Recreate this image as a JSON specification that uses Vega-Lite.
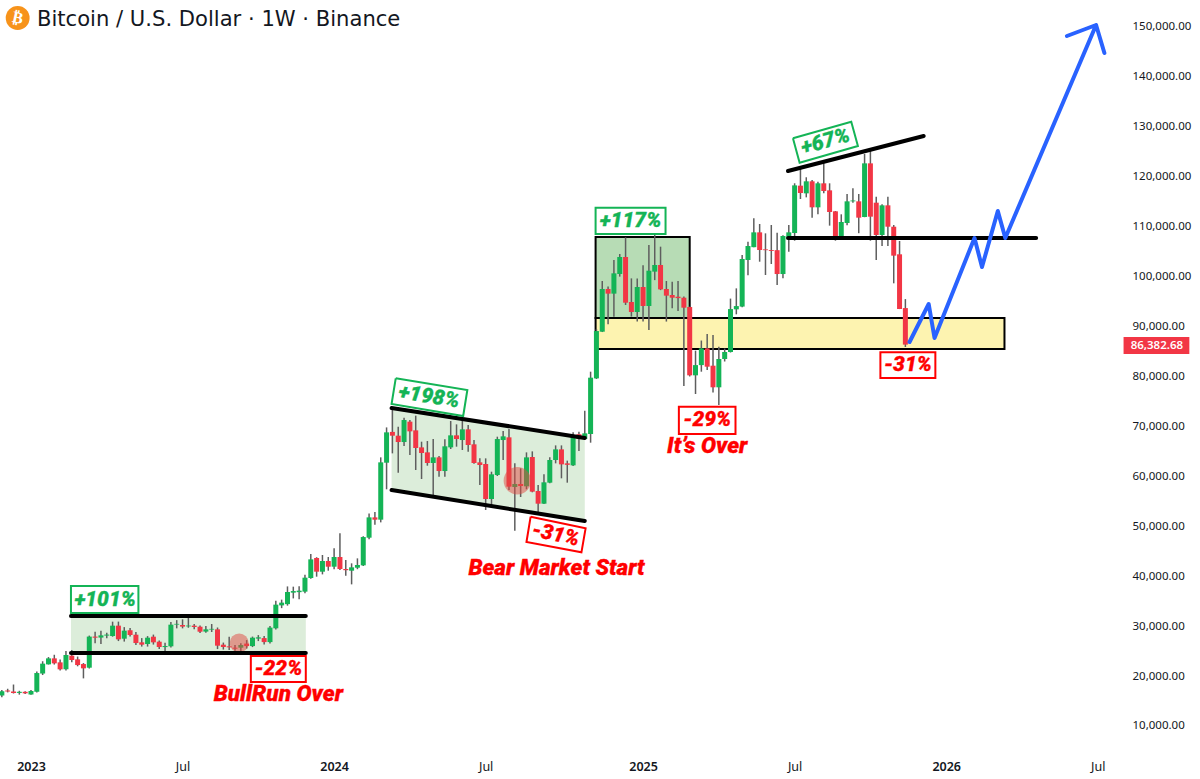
{
  "$schema": "https://vega.github.io/schema/vega-lite/v6.json",
  "width": 1200,
  "height": 779,
  "padding": 0,
  "autosize": "none",
  "background": "#ffffff",
  "config": {"view": {"stroke": null}},
  "title": {
    "text": "Bitcoin / U.S. Dollar · 1W · Binance",
    "anchor": "start",
    "frame": "group",
    "dx": 37,
    "offset": -30,
    "font": "DejaVu Sans",
    "fontSize": 21.1,
    "fontWeight": "normal",
    "color": "#131722"
  },
  "datasets": {
    "candles": [
      {"d":"2022-11-28","o":16100,"h":17200,"l":15750,"c":16950},
      {"d":"2022-12-05","o":17080,"h":17450,"l":16720,"c":16900},
      {"d":"2022-12-12","o":16900,"h":18300,"l":16500,"c":16600},
      {"d":"2022-12-19","o":16620,"h":17050,"l":16270,"c":16840},
      {"d":"2022-12-26","o":16840,"h":16970,"l":16400,"c":16540},
      {"d":"2023-01-02","o":16300,"h":17200,"l":16250,"c":17000},
      {"d":"2023-01-09","o":16850,"h":20900,"l":16700,"c":20600},
      {"d":"2023-01-16","o":20500,"h":22960,"l":20200,"c":22480},
      {"d":"2023-01-23","o":22340,"h":23800,"l":22300,"c":23540},
      {"d":"2023-01-30","o":23540,"h":24260,"l":22300,"c":22540},
      {"d":"2023-02-06","o":22740,"h":23300,"l":21100,"c":21340},
      {"d":"2023-02-13","o":21340,"h":25000,"l":21100,"c":24210},
      {"d":"2023-02-20","o":24080,"h":25200,"l":22760,"c":23210},
      {"d":"2023-02-27","o":23340,"h":23900,"l":21950,"c":22200},
      {"d":"2023-03-06","o":22400,"h":22600,"l":19530,"c":21540},
      {"d":"2023-03-13","o":21670,"h":28100,"l":21500,"c":27900},
      {"d":"2023-03-20","o":27900,"h":28890,"l":26550,"c":27680},
      {"d":"2023-03-27","o":27700,"h":29090,"l":26410,"c":28150},
      {"d":"2023-04-03","o":28100,"h":28660,"l":27550,"c":28300},
      {"d":"2023-04-10","o":28020,"h":30890,"l":27880,"c":30090},
      {"d":"2023-04-17","o":30090,"h":30900,"l":27000,"c":27350},
      {"d":"2023-04-24","o":27480,"h":29800,"l":26900,"c":29090},
      {"d":"2023-05-01","o":29150,"h":29600,"l":27900,"c":28220},
      {"d":"2023-05-08","o":28280,"h":28800,"l":26200,"c":26610},
      {"d":"2023-05-15","o":26750,"h":27600,"l":25900,"c":26280},
      {"d":"2023-05-22","o":26410,"h":28000,"l":25900,"c":27680},
      {"d":"2023-05-29","o":27880,"h":28300,"l":26300,"c":26750},
      {"d":"2023-06-05","o":26880,"h":27100,"l":25400,"c":25810},
      {"d":"2023-06-12","o":25800,"h":26680,"l":24880,"c":26010},
      {"d":"2023-06-19","o":25950,"h":30800,"l":25700,"c":30290},
      {"d":"2023-06-26","o":30300,"h":31200,"l":29550,"c":30450},
      {"d":"2023-07-03","o":30220,"h":31360,"l":29550,"c":29900},
      {"d":"2023-07-10","o":29950,"h":31890,"l":29670,"c":30100},
      {"d":"2023-07-17","o":30090,"h":30420,"l":29350,"c":29820},
      {"d":"2023-07-24","o":29880,"h":30100,"l":28600,"c":28880},
      {"d":"2023-07-31","o":28900,"h":30020,"l":28680,"c":29350},
      {"d":"2023-08-07","o":29300,"h":30420,"l":28820,"c":29450},
      {"d":"2023-08-14","o":29350,"h":29720,"l":25400,"c":26080},
      {"d":"2023-08-21","o":26280,"h":26700,"l":25300,"c":25810},
      {"d":"2023-08-28","o":25950,"h":27880,"l":25200,"c":25750},
      {"d":"2023-09-04","o":25680,"h":26200,"l":25080,"c":25480},
      {"d":"2023-09-11","o":25680,"h":26550,"l":24880,"c":26210},
      {"d":"2023-09-18","o":26500,"h":27200,"l":25500,"c":26000},
      {"d":"2023-09-25","o":26000,"h":27900,"l":25800,"c":27680},
      {"d":"2023-10-02","o":27500,"h":28200,"l":27000,"c":27750},
      {"d":"2023-10-09","o":27600,"h":28000,"l":26300,"c":26800},
      {"d":"2023-10-16","o":26800,"h":30000,"l":26500,"c":29700},
      {"d":"2023-10-23","o":29560,"h":35100,"l":29300,"c":34300},
      {"d":"2023-10-30","o":34150,"h":35300,"l":33600,"c":34700},
      {"d":"2023-11-06","o":34400,"h":37950,"l":34100,"c":36830},
      {"d":"2023-11-13","o":36700,"h":37900,"l":35550,"c":37020},
      {"d":"2023-11-20","o":36800,"h":38000,"l":35400,"c":37100},
      {"d":"2023-11-27","o":36900,"h":40300,"l":36600,"c":39700},
      {"d":"2023-12-04","o":39630,"h":44440,"l":39500,"c":43370},
      {"d":"2023-12-11","o":43640,"h":43800,"l":39900,"c":40900},
      {"d":"2023-12-18","o":40900,"h":44240,"l":40360,"c":43040},
      {"d":"2023-12-25","o":43040,"h":43840,"l":41100,"c":41900},
      {"d":"2024-01-01","o":41900,"h":45580,"l":41370,"c":43840},
      {"d":"2024-01-08","o":43840,"h":48580,"l":41240,"c":41440},
      {"d":"2024-01-15","o":41440,"h":43240,"l":40100,"c":41200},
      {"d":"2024-01-22","o":41100,"h":42570,"l":38360,"c":41770},
      {"d":"2024-01-29","o":41700,"h":43570,"l":41400,"c":42240},
      {"d":"2024-02-05","o":42170,"h":48000,"l":42040,"c":47840},
      {"d":"2024-02-12","o":47710,"h":52580,"l":47380,"c":51780},
      {"d":"2024-02-19","o":51780,"h":52850,"l":50320,"c":51320},
      {"d":"2024-02-26","o":51320,"h":63800,"l":50780,"c":62800},
      {"d":"2024-03-04","o":62730,"h":69800,"l":57400,"c":68810},
      {"d":"2024-03-11","o":68900,"h":73620,"l":64600,"c":68140},
      {"d":"2024-03-18","o":68140,"h":69950,"l":60730,"c":66870},
      {"d":"2024-03-25","o":66870,"h":71750,"l":66070,"c":71280},
      {"d":"2024-04-01","o":70950,"h":71280,"l":64270,"c":69010},
      {"d":"2024-04-08","o":69210,"h":72150,"l":61270,"c":65670},
      {"d":"2024-04-15","o":65800,"h":66940,"l":59460,"c":64670},
      {"d":"2024-04-22","o":64800,"h":67070,"l":62130,"c":62670},
      {"d":"2024-04-29","o":62670,"h":67470,"l":56130,"c":63800},
      {"d":"2024-05-06","o":63800,"h":64070,"l":59930,"c":61060},
      {"d":"2024-05-13","o":61060,"h":67410,"l":59930,"c":66010},
      {"d":"2024-05-20","o":65800,"h":71080,"l":65470,"c":68210},
      {"d":"2024-05-27","o":68210,"h":70410,"l":65940,"c":67470},
      {"d":"2024-06-03","o":67270,"h":71280,"l":65270,"c":69410},
      {"d":"2024-06-10","o":69410,"h":70280,"l":64940,"c":66270},
      {"d":"2024-06-17","o":66410,"h":67270,"l":62500,"c":62670},
      {"d":"2024-06-24","o":62800,"h":63600,"l":58260,"c":62270},
      {"d":"2024-07-01","o":62470,"h":63600,"l":53250,"c":55460},
      {"d":"2024-07-08","o":55460,"h":60930,"l":54260,"c":60400},
      {"d":"2024-07-15","o":60270,"h":67940,"l":60070,"c":67470},
      {"d":"2024-07-22","o":67270,"h":69080,"l":63270,"c":68010},
      {"d":"2024-07-29","o":67810,"h":69480,"l":57260,"c":57930},
      {"d":"2024-08-05","o":57860,"h":62600,"l":49100,"c":58460},
      {"d":"2024-08-12","o":58460,"h":61600,"l":55860,"c":58060},
      {"d":"2024-08-19","o":58000,"h":64800,"l":57400,"c":63800},
      {"d":"2024-08-26","o":63870,"h":65000,"l":56800,"c":56930},
      {"d":"2024-09-02","o":57060,"h":58260,"l":52450,"c":54520},
      {"d":"2024-09-09","o":54520,"h":60400,"l":54450,"c":58800},
      {"d":"2024-09-16","o":58730,"h":63800,"l":58600,"c":63270},
      {"d":"2024-09-23","o":63270,"h":66200,"l":62600,"c":65400},
      {"d":"2024-09-30","o":65400,"h":66200,"l":59600,"c":62400},
      {"d":"2024-10-07","o":62600,"h":63140,"l":58730,"c":62300},
      {"d":"2024-10-14","o":62200,"h":68810,"l":62070,"c":68280},
      {"d":"2024-10-21","o":68430,"h":68950,"l":65070,"c":67470},
      {"d":"2024-10-28","o":67470,"h":73150,"l":67470,"c":68610},
      {"d":"2024-11-04","o":68475,"h":80960,"l":66740,"c":79760},
      {"d":"2024-11-11","o":79620,"h":89500,"l":79500,"c":89100},
      {"d":"2024-11-18","o":88970,"h":99120,"l":88900,"c":97520},
      {"d":"2024-11-25","o":97520,"h":98000,"l":90440,"c":96590},
      {"d":"2024-12-02","o":96590,"h":103330,"l":91980,"c":100660},
      {"d":"2024-12-09","o":100530,"h":104530,"l":100000,"c":103930},
      {"d":"2024-12-16","o":103930,"h":107870,"l":94320,"c":94780},
      {"d":"2024-12-23","o":94920,"h":99650,"l":92000,"c":92910},
      {"d":"2024-12-30","o":92910,"h":99650,"l":91000,"c":97920},
      {"d":"2025-01-06","o":97920,"h":102300,"l":91000,"c":94120},
      {"d":"2025-01-13","o":94120,"h":106330,"l":89300,"c":101190},
      {"d":"2025-01-20","o":101000,"h":109000,"l":99300,"c":102330},
      {"d":"2025-01-27","o":102330,"h":106000,"l":97300,"c":97450},
      {"d":"2025-02-03","o":97520,"h":99120,"l":91000,"c":96190},
      {"d":"2025-02-10","o":96320,"h":98990,"l":93650,"c":95780},
      {"d":"2025-02-17","o":95980,"h":99120,"l":93100,"c":95700},
      {"d":"2025-02-24","o":95780,"h":96000,"l":78090,"c":93780},
      {"d":"2025-03-03","o":93910,"h":94000,"l":80000,"c":80230},
      {"d":"2025-03-10","o":80230,"h":85170,"l":76490,"c":82280},
      {"d":"2025-03-17","o":82280,"h":87200,"l":80960,"c":85630},
      {"d":"2025-03-24","o":85630,"h":88500,"l":81300,"c":81960},
      {"d":"2025-03-31","o":82160,"h":88300,"l":76800,"c":77830},
      {"d":"2025-04-07","o":77830,"h":85970,"l":74280,"c":83500},
      {"d":"2025-04-14","o":83500,"h":85600,"l":83000,"c":84900},
      {"d":"2025-04-21","o":84900,"h":95600,"l":84800,"c":93500},
      {"d":"2025-04-28","o":93450,"h":97650,"l":92450,"c":94100},
      {"d":"2025-05-05","o":94000,"h":104330,"l":93850,"c":103530},
      {"d":"2025-05-12","o":103330,"h":107000,"l":100300,"c":106130},
      {"d":"2025-05-19","o":105900,"h":111670,"l":105900,"c":108870},
      {"d":"2025-05-26","o":108870,"h":110540,"l":102990,"c":105330},
      {"d":"2025-06-02","o":105460,"h":108670,"l":100330,"c":105300},
      {"d":"2025-06-09","o":105330,"h":110340,"l":102530,"c":105150},
      {"d":"2025-06-16","o":105300,"h":108800,"l":98320,"c":100520},
      {"d":"2025-06-23","o":100520,"h":108300,"l":99700,"c":108140},
      {"d":"2025-06-30","o":108000,"h":110340,"l":105000,"c":108870},
      {"d":"2025-07-07","o":108740,"h":118700,"l":107200,"c":118280},
      {"d":"2025-07-14","o":118220,"h":121690,"l":115550,"c":116750},
      {"d":"2025-07-21","o":116680,"h":119900,"l":115880,"c":119090},
      {"d":"2025-07-28","o":119090,"h":119350,"l":111810,"c":113880},
      {"d":"2025-08-04","o":113880,"h":119020,"l":112480,"c":118690},
      {"d":"2025-08-11","o":118690,"h":122690,"l":116680,"c":117150},
      {"d":"2025-08-18","o":117280,"h":118690,"l":110210,"c":112940},
      {"d":"2025-08-25","o":113080,"h":113150,"l":107200,"c":107800},
      {"d":"2025-09-01","o":107800,"h":112480,"l":107470,"c":110940},
      {"d":"2025-09-08","o":110740,"h":116550,"l":110270,"c":115080},
      {"d":"2025-09-15","o":115080,"h":117700,"l":114800,"c":115250},
      {"d":"2025-09-22","o":115080,"h":116550,"l":108700,"c":111810},
      {"d":"2025-09-29","o":111940,"h":124560,"l":111900,"c":122690},
      {"d":"2025-10-06","o":122690,"h":125700,"l":107200,"c":112010},
      {"d":"2025-10-13","o":114810,"h":116020,"l":103330,"c":108340},
      {"d":"2025-10-20","o":108340,"h":114500,"l":106130,"c":114280},
      {"d":"2025-10-27","o":114280,"h":116020,"l":106130,"c":110000},
      {"d":"2025-11-03","o":110000,"h":110340,"l":98660,"c":104200},
      {"d":"2025-11-10","o":104470,"h":107140,"l":93500,"c":93510},
      {"d":"2025-11-17","o":93700,"h":95500,"l":85900,"c":86382.68}
    ]
  },
  "layer": [
    {
      "data": {"values": [
        {"start":"2023-02-19","end":"2023-11-28","top":32023,"bottom":24612}
      ]},
      "mark": {"type":"rect","fill":"#dcedda"},
      "encoding": {
        "x": {"field":"start","type":"temporal","scale":{"type":"utc","nice":false,"padding":0,"domain":["2022-11-25T19:00:00Z","2026-11-05T19:00:00Z"]},"title":null,
          "axis":{"values":[
            {"year":2023,"month":1,"date":2,"utc":true},{"year":2023,"month":7,"date":3,"utc":true},
            {"year":2024,"month":1,"date":1,"utc":true},{"year":2024,"month":7,"date":1,"utc":true},
            {"year":2025,"month":1,"date":6,"utc":true},{"year":2025,"month":7,"date":7,"utc":true},
            {"year":2026,"month":1,"date":5,"utc":true},{"year":2026,"month":7,"date":6,"utc":true}],
            "grid":false,"ticks":false,"domain":false,"labelPadding":-19,"labelFont":"Noto Sans","labelFontSize":12.5,"labelColor":"#131722",
            "labelFontWeight":{"condition":{"test":"utcmonth(datum.value)==0","value":600},"value":400},
            "labelExpr":"utcmonth(datum.value)==0 ? utcFormat(datum.value,'%Y') : 'Jul'","labelOverlap":false}},
        "x2": {"field":"end"},
        "y": {"field":"top","type":"quantitative","scale":{"domain":[-624,155408],"nice":false,"zero":false},"title":null,
          "axis":{"orient":"right","values":[10000,20000,30000,40000,50000,60000,70000,80000,90000,100000,110000,120000,130000,140000,150000],
            "format":",.2f","grid":false,"ticks":false,"domain":false,"labelPadding":-68,"labelFont":"Noto Sans","labelFontSize":11.5,"labelColor":"#131722"}},
        "y2": {"field":"bottom"}
      }
    },
    {
      "data": {"values": [
        {"date":"2024-03-10","top":73686,"bottom":57261},
        {"date":"2024-10-28","top":67677,"bottom":51052}
      ]},
      "mark": {"type":"area","fill":"#dcedda"},
      "encoding": {
        "x": {"field":"date","type":"temporal","title":null},
        "y": {"field":"top","type":"quantitative","title":null},
        "y2": {"field":"bottom"}
      }
    },
    {
      "data": {"values": [
        {"start":"2024-11-10","end":"2025-03-03","top":107937,"bottom":91713}
      ]},
      "mark": {"type":"rect","fill":"#b7dcb5","stroke":"#000000","strokeWidth":2},
      "encoding": {
        "x": {"field":"start","type":"temporal","title":null},
        "x2": {"field":"end"},
        "y": {"field":"top","type":"quantitative","title":null},
        "y2": {"field":"bottom"}
      }
    },
    {
      "data": {"values": [
        {"start":"2024-11-10","end":"2026-03-16","top":91713,"bottom":85503}
      ]},
      "mark": {"type":"rect","fill":"#fdf3b0","stroke":"#000000","strokeWidth":2},
      "encoding": {
        "x": {"field":"start","type":"temporal","title":null},
        "x2": {"field":"end"},
        "y": {"field":"top","type":"quantitative","title":null},
        "y2": {"field":"bottom"}
      }
    },
    {
      "data": {"name":"candles"},
      "mark": {"type":"rule","color":"#5e5e5e","strokeWidth":1.5},
      "encoding": {
        "x": {"field":"d","type":"temporal","title":null},
        "y": {"field":"l","type":"quantitative","title":null},
        "y2": {"field":"h"}
      }
    },
    {
      "data": {"name":"candles"},
      "mark": {"type":"bar","size":5},
      "encoding": {
        "x": {"field":"d","type":"temporal","title":null},
        "y": {"field":"o","type":"quantitative","title":null},
        "y2": {"field":"c"},
        "color": {"condition":{"test":"datum.c>=datum.o","value":"#14b456"},"value":"#f23645"}
      }
    },
    {
      "data": {"values": [
        {"date":"2023-09-09","price":26615,"size":360},
        {"date":"2024-08-08","price":59125,"size":750}
      ]},
      "mark": {"type":"circle","color":"#e0483f","opacity":0.5},
      "encoding": {
        "x": {"field":"date","type":"temporal","title":null},
        "y": {"field":"price","type":"quantitative","title":null},
        "size": {"field":"size","type":"quantitative","scale":null,"legend":null}
      }
    },
    {
      "data": {"values": [
        {"name":"range top","date":"2023-02-19","price":32023},
        {"name":"range top","date":"2023-11-28","price":32023},
        {"name":"range low","date":"2023-02-19","price":24612},
        {"name":"range low","date":"2023-11-28","price":24612},
        {"name":"channel top","date":"2024-03-10","price":73686},
        {"name":"channel top","date":"2024-10-28","price":67677},
        {"name":"channel low","date":"2024-03-10","price":57261},
        {"name":"channel low","date":"2024-10-28","price":51052},
        {"name":"trend","date":"2025-06-29","price":121157},
        {"name":"trend","date":"2025-12-09","price":128167},
        {"name":"support","date":"2025-06-29","price":107737},
        {"name":"support","date":"2026-04-23","price":107737}
      ]},
      "mark": {"type":"line","color":"#000000","strokeWidth":4,"strokeCap":"round"},
      "encoding": {
        "x": {"field":"date","type":"temporal","title":null},
        "y": {"field":"price","type":"quantitative","title":null},
        "detail": {"field":"name"}
      }
    },
    {
      "data": {"values": [
        {"i":0,"date":"2025-11-22","price":86906},
        {"i":1,"date":"2025-12-15","price":94517},
        {"i":2,"date":"2025-12-22","price":87707},
        {"i":3,"date":"2026-02-08","price":107737},
        {"i":4,"date":"2026-02-17","price":101928},
        {"i":5,"date":"2026-03-08","price":113145},
        {"i":6,"date":"2026-03-17","price":107737},
        {"i":7,"date":"2026-07-04","price":150400},
        {"i":8,"date":"2026-05-30","price":148197},
        {"i":9,"date":"2026-07-04","price":150400},
        {"i":10,"date":"2026-07-14","price":144792}
      ]},
      "mark": {"type":"line","color":"#2962ff","strokeWidth":4,"strokeJoin":"round","strokeCap":"round"},
      "encoding": {
        "x": {"field":"date","type":"temporal","title":null},
        "y": {"field":"price","type":"quantitative","title":null},
        "order": {"field":"i"}
      }
    },
    {
      "data": {"values": [
        {"start":"2023-02-19","end":"2023-05-11","top":38032,"bottom":32624},
        {"start":"2024-11-10","end":"2025-02-02","top":113806,"bottom":108538}
      ]},
      "mark": {"type":"rect","fill":"#ffffff","stroke":"#14b456","strokeWidth":2},
      "encoding": {
        "x": {"field":"start","type":"temporal","title":null},
        "x2": {"field":"end"},
        "y": {"field":"top","type":"quantitative","title":null},
        "y2": {"field":"bottom"}
      }
    },
    {
      "data": {"values": [
        {"start":"2023-09-23","end":"2023-11-28","top":24011,"bottom":18804},
        {"start":"2025-02-18","end":"2025-04-27","top":73946,"bottom":68478},
        {"start":"2025-10-18","end":"2025-12-23","top":84842,"bottom":79695}
      ]},
      "mark": {"type":"rect","fill":"#ffffff","stroke":"#ff0000","strokeWidth":2},
      "encoding": {
        "x": {"field":"start","type":"temporal","title":null},
        "x2": {"field":"end"},
        "y": {"field":"top","type":"quantitative","title":null},
        "y2": {"field":"bottom"}
      }
    },
    {
      "data": {"values": [
        {"box":"+198%","i":0,"date":"2024-03-15","price":79635},
        {"box":"+198%","i":1,"date":"2024-06-09","price":77291},
        {"box":"+198%","i":2,"date":"2024-06-04","price":72083},
        {"box":"+198%","i":3,"date":"2024-03-10","price":74487},
        {"box":"+198%","i":4,"date":"2024-03-15","price":79635},
        {"box":"+67%","i":0,"date":"2025-07-05","price":127707},
        {"box":"+67%","i":1,"date":"2025-09-13","price":131032},
        {"box":"+67%","i":2,"date":"2025-09-21","price":126164},
        {"box":"+67%","i":3,"date":"2025-07-13","price":122819},
        {"box":"+67%","i":4,"date":"2025-07-05","price":127707}
      ]},
      "mark": {"type":"line","color":"#14b456","strokeWidth":2},
      "encoding": {
        "x": {"field":"date","type":"temporal","title":null},
        "y": {"field":"price","type":"quantitative","title":null},
        "detail": {"field":"box"},
        "order": {"field":"i"}
      }
    },
    {
      "data": {"values": [
        {"i":0,"date":"2024-08-24","price":51913},
        {"i":1,"date":"2024-10-29","price":49590},
        {"i":2,"date":"2024-10-24","price":44782},
        {"i":3,"date":"2024-08-19","price":46846},
        {"i":4,"date":"2024-08-24","price":51913}
      ]},
      "mark": {"type":"line","color":"#ff0000","strokeWidth":2},
      "encoding": {
        "x": {"field":"date","type":"temporal","title":null},
        "y": {"field":"price","type":"quantitative","title":null},
        "order": {"field":"i"}
      }
    },
    {
      "data": {"values": [
        {"date":"2023-04-01","price":35325,"label":"+101%"},
        {"date":"2024-12-22","price":111172,"label":"+117%"}
      ]},
      "mark": {"type":"text","font":"Roboto","fontSize":21,"fontWeight":900,"fontStyle":"italic","color":"#14b456","stroke":"#14b456","strokeWidth":0.3},
      "encoding": {
        "x": {"field":"date","type":"temporal","title":null},
        "y": {"field":"price","type":"quantitative","title":null},
        "text": {"field":"label"}
      }
    },
    {
      "data": {"values": [{"date":"2024-04-24","price":75889,"label":"+198%"}]},
      "mark": {"type":"text","font":"Roboto","fontSize":21,"fontWeight":900,"fontStyle":"italic","color":"#14b456","stroke":"#14b456","strokeWidth":0.3,"angle":9},
      "encoding": {
        "x": {"field":"date","type":"temporal","title":null},
        "y": {"field":"price","type":"quantitative","title":null},
        "text": {"field":"label"}
      }
    },
    {
      "data": {"values": [{"date":"2025-08-13","price":126966,"label":"+67%"}]},
      "mark": {"type":"text","font":"Roboto","fontSize":21,"fontWeight":900,"fontStyle":"italic","color":"#14b456","stroke":"#14b456","strokeWidth":0.3,"angle":344},
      "encoding": {
        "x": {"field":"date","type":"temporal","title":null},
        "y": {"field":"price","type":"quantitative","title":null},
        "text": {"field":"label"}
      }
    },
    {
      "data": {"values": [
        {"date":"2023-10-26","price":21408,"label":"-22%"},
        {"date":"2025-03-24","price":71212,"label":"-29%"},
        {"date":"2025-11-20","price":82269,"label":"-31%"}
      ]},
      "mark": {"type":"text","font":"Roboto","fontSize":21,"fontWeight":900,"fontStyle":"italic","color":"#ff0000","stroke":"#ff0000","strokeWidth":0.3},
      "encoding": {
        "x": {"field":"date","type":"temporal","title":null},
        "y": {"field":"price","type":"quantitative","title":null},
        "text": {"field":"label"}
      }
    },
    {
      "data": {"values": [{"date":"2024-09-23","price":48248,"label":"-31%"}]},
      "mark": {"type":"text","font":"Roboto","fontSize":21,"fontWeight":900,"fontStyle":"italic","color":"#ff0000","stroke":"#ff0000","strokeWidth":0.3,"angle":12},
      "encoding": {
        "x": {"field":"date","type":"temporal","title":null},
        "y": {"field":"price","type":"quantitative","title":null},
        "text": {"field":"label"}
      }
    },
    {
      "data": {"values": [
        {"date":"2023-10-26","price":16400,"label":"BullRun Over"},
        {"date":"2024-09-24","price":41638,"label":"Bear Market Start"},
        {"date":"2025-03-24","price":66074,"label":"It’s Over"}
      ]},
      "mark": {"type":"text","font":"Roboto","fontSize":22.5,"fontWeight":900,"fontStyle":"italic","color":"#ff0000","stroke":"#ff0000","strokeWidth":0.3},
      "encoding": {
        "x": {"field":"date","type":"temporal","title":null},
        "y": {"field":"price","type":"quantitative","title":null},
        "text": {"field":"label"}
      }
    },
    {
      "data": {"values": [{"start":"2026-08-06","end":"2026-10-24","top":87907,"bottom":84502}]},
      "mark": {"type":"rect","fill":"#f23645"},
      "encoding": {
        "x": {"field":"start","type":"temporal","title":null},
        "x2": {"field":"end"},
        "y": {"field":"top","type":"quantitative","title":null},
        "y2": {"field":"bottom"}
      }
    },
    {
      "data": {"values": [{"date":"2026-09-15","price":86205,"label":"86,382.68"}]},
      "mark": {"type":"text","font":"Noto Sans","fontSize":11.5,"fontWeight":600,"color":"#ffffff"},
      "encoding": {
        "x": {"field":"date","type":"temporal","title":null},
        "y": {"field":"price","type":"quantitative","title":null},
        "text": {"field":"label"}
      }
    },
    {
      "data": {"values": [{"date":"2022-12-17","price":151803}]},
      "mark": {"type":"circle","color":"#f7931a","size":570,"opacity":1},
      "encoding": {
        "x": {"field":"date","type":"temporal","title":null},
        "y": {"field":"price","type":"quantitative","title":null}
      }
    },
    {
      "data": {"values": [{"date":"2022-12-17","price":151803,"label":"₿"}]},
      "mark": {"type":"text","font":"DejaVu Sans","fontSize":16,"fontWeight":"bold","color":"#ffffff","angle":12},
      "encoding": {
        "x": {"field":"date","type":"temporal","title":null},
        "y": {"field":"price","type":"quantitative","title":null},
        "text": {"field":"label"}
      }
    }
  ]
}
